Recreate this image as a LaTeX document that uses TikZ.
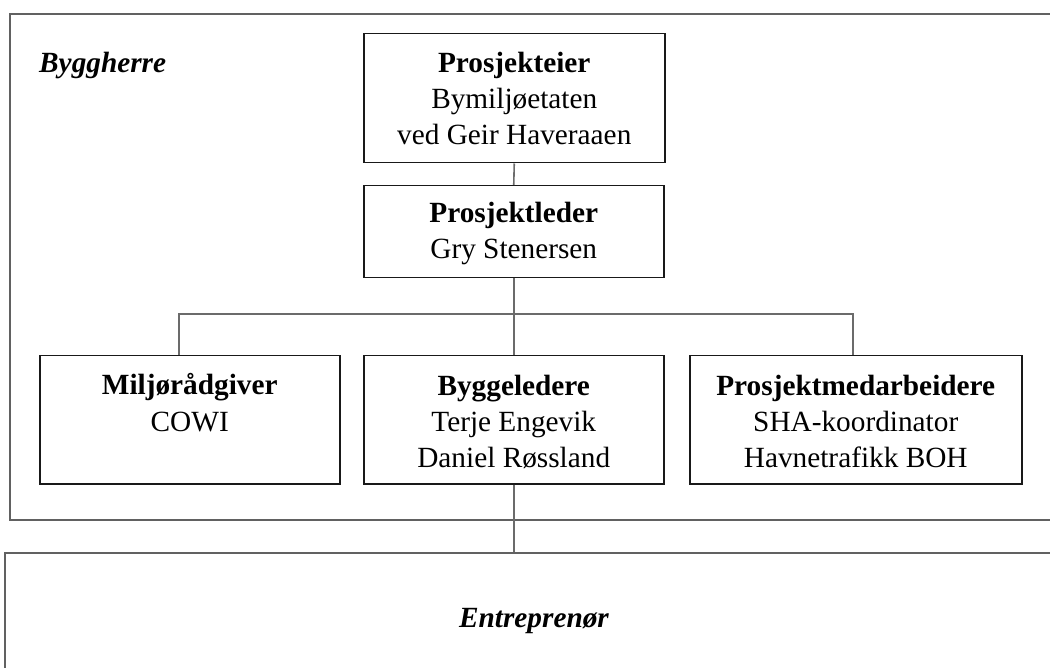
\documentclass[tikz,border=0pt]{standalone}
\usepackage{fontspec}
\setmainfont{Liberation Serif}
\begin{document}
\begin{tikzpicture}[x=1pt,y=-1pt,
  every node/.style={font=\fontsize{29.3}{36}\selectfont},
  box/.style={draw=black!90,line width=1.5pt,inner sep=0pt,anchor=north west},
  frame/.style={draw=black!62,line width=2.2pt,inner sep=0pt,anchor=north west},
  conn/.style={draw=black!58,line width=1.6pt},
  txt/.style={align=center,inner sep=0pt,anchor=base}]
\useasboundingbox (0,0) rectangle (1050,668);
\clip (0,0) rectangle (1050,668);
% outer frames
\node[frame,minimum width=1080pt,minimum height=506pt] (bygg) at (9,13) {};
\node[frame,minimum width=1080pt,minimum height=150pt] (entr) at (4,552) {};
\node[anchor=base west,inner sep=0pt,font=\fontsize{29.3}{36}\selectfont\bfseries\itshape] (byggtxt) at (39,73) {Byggherre};
\node[anchor=base,inner sep=0pt,font=\fontsize{29.3}{36}\selectfont\bfseries\itshape] (entrtxt) at (534,627) {Entreprenør};
% boxes
\node[box,minimum width=301pt,minimum height=129pt] (eier) at (363,33) {};
\node[box,minimum width=300pt,minimum height=92pt] (leder) at (363,185) {};
\node[box,minimum width=300pt,minimum height=128pt] (milj) at (39,355) {};
\node[box,minimum width=300pt,minimum height=128pt] (bygl) at (363,355) {};
\node[box,minimum width=332pt,minimum height=128pt] (medarb) at (689,355) {};
% text nodes: anchor=base is the baseline of the last line
\node[txt] (eiertxt) at (eier.north |- 0,145) {\textbf{Prosjekteier}\\Bymiljøetaten\\ved Geir Haveraaen};
\node[txt] (ledertxt) at (leder.north |- 0,259) {\textbf{Prosjektleder}\\Gry Stenersen};
\node[txt] (miljtxt) at (milj.north |- 0,431) {\textbf{Miljørådgiver}\\COWI};
\node[txt] (bygltxt) at (bygl.north |- 0,467) {\textbf{Byggeledere}\\Terje Engevik\\Daniel Røssland};
\node[txt] (medarbtxt) at (medarb.north |- 0,467) {\textbf{Prosjektmedarbeidere}\\SHA-koordinator\\Havnetrafikk BOH};
% connectors
\draw[conn] (eier.south) -- (leder.north);
\draw[conn] (leder.south) -- (bygl.north);
\draw[conn] (milj.north -| 179,0) -- (179,314) -- (853,314) -- (medarb.north -| 853,0);
\draw[conn] (bygl.south) -- (bygl.south |- entr.north);
\end{tikzpicture}
\end{document}
